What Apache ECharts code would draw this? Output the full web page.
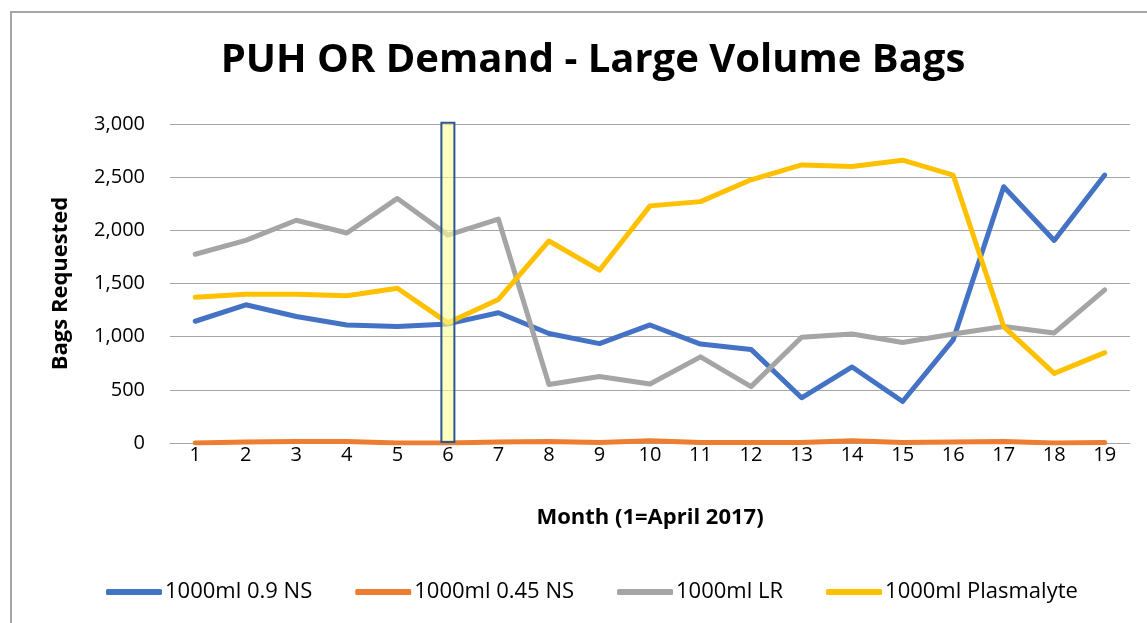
<!DOCTYPE html>
<html>
<head>
<meta charset="utf-8">
<script src="https://cdn.jsdelivr.net/npm/echarts@6/dist/echarts.min.js"></script>
<style>
  html, body { margin: 0; padding: 0; background: #fff; }
  #chart { width: 1147px; height: 623px; }
</style>
</head>
<body>
<div id="chart"></div>
<script>
// months 1..19 (1 = April 2017)
var months = ["1","2","3","4","5","6","7","8","9","10","11","12","13","14","15","16","17","18","19"];
var ns09   = [1145,1300,1190,1110,1095,1120,1225,1030,935,1110,930,880,425,715,390,970,2410,1905,2520];
var ns045  = [0,10,15,15,0,0,10,15,5,20,5,5,5,20,5,10,15,0,5];
var lr     = [1775,1905,2095,1975,2300,1955,2105,550,625,555,810,530,995,1025,945,1025,1095,1035,1440];
var plasma = [1370,1400,1400,1385,1455,1130,1350,1900,1625,2230,2270,2475,2615,2600,2660,2520,1095,655,850];
// highlight box over month 6
var highlight = [null,null,null,null,null,3020,null,null,null,null,null,null,null,null,null,null,null,null,null];
var yTicks = [0,500,1000,1500,2000,2500,3000];

var font = "'Open Sans', sans-serif";
var chart = echarts.init(document.getElementById("chart"));

function lineSeries(name, data, color) {
    return {
        name: name, type: "line", data: data,
        showSymbol: false, symbol: "none",
        lineStyle: { color: color, width: 5, cap: "round", join: "round" },
        itemStyle: { color: color },
        z: 2
    };
}

chart.setOption({
    animation: false,
    title: {
        text: "PUH OR Demand - Large Volume Bags",
        left: 588, top: 36, textAlign: "center",
        textStyle: { fontFamily: font, fontWeight: "bold", fontSize: 40, color: "#000" }
    },
    graphic: [{
        type: "rect", shape: { x: 11, y: 12, width: 1160, height: 640 },
        style: { fill: "none", stroke: "#a6a6a6", lineWidth: 2 }, silent: true
    }],
    legend: {
        data: ["1000ml 0.9 NS","1000ml 0.45 NS","1000ml LR","1000ml Plasmalyte"],
        left: 101, top: 576,
        icon: "roundRect", itemWidth: 56, itemHeight: 6, itemGap: 43,
        textStyle: { fontFamily: font, fontSize: 22, color: "#000", padding: [0,0,0,-2] }
    },
    grid: { left: 170, right: 17, top: 124, bottom: 180 },
    xAxis: {
        type: "category", data: months, boundaryGap: true,
        name: "Month (1=April 2017)", nameLocation: "middle", nameGap: 64,
        nameTextStyle: { fontFamily: font, fontWeight: "bold", fontSize: 22, color: "#000" },
        axisLine: { show: true, lineStyle: { color: "#a6a6a6", width: 1 } },
        axisTick: { show: false },
        axisLabel: { fontFamily: font, fontSize: 20, color: "#000", margin: 2 }
    },
    yAxis: {
        type: "value", min: 0, max: 3000, interval: 500,
        name: "Bags Requested", nameLocation: "middle", nameGap: 98, nameRotate: 90,
        nameTextStyle: { fontFamily: font, fontWeight: "bold", fontSize: 22, color: "#000" },
        axisLine: { show: false }, axisTick: { show: false },
        splitLine: { lineStyle: { color: "#a6a6a6", width: 1 } },
        axisLabel: {
            fontFamily: font, fontSize: 20, color: "#000", margin: 25,
            formatter: function (v) { return yTicks.indexOf(v) >= 0 ? v.toLocaleString("en-US") : ""; }
        }
    },
    series: [
        lineSeries("1000ml 0.9 NS", ns09, "#4472C4"),
        lineSeries("1000ml 0.45 NS", ns045, "#ED7D31"),
        lineSeries("1000ml LR", lr, "#A5A5A5"),
        lineSeries("1000ml Plasmalyte", plasma, "#FFC000"),
        {
            name: "highlight", type: "bar", data: highlight, barWidth: 15, z: 5, clip: false,
            itemStyle: { color: "rgba(255,255,150,0.6)", borderColor: "#2F5597", borderWidth: 2 }
        }
    ]
});
</script>
</body>
</html>
